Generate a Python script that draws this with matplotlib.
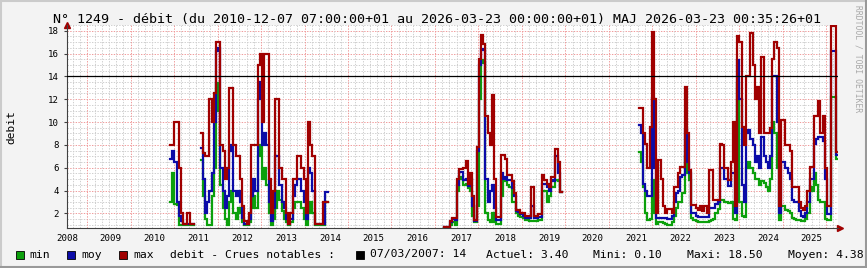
import matplotlib
matplotlib.use('Agg')
import numpy as np
import matplotlib.pyplot as plt
from matplotlib.patches import Rectangle
from matplotlib.lines import Line2D

W, H = 867, 268
MONO = 'DejaVu Sans Mono'

# step of the series, in years
dt = 0.05
nan = np.nan

# --- 2010-2013 ---
seg1_start = 2010.35
seg1_max = [8, 8, 10, 10, 6, 2, 1.05, 1.05, 2, 1.05, 1.05, nan, nan, nan,
            9, 7.3, 7, 7, 12, 10, 12.5, 17, 17, 8, 7.5, 5, 6, 13, 13, 8, 7, 7, 5,
            2.6, 1.3, 1.05, 2, 8, 8, 8, 15, 16, 10, 16, 16, 5, 2, 4, 12, 12, 6, 5, 5,
            2, 1.05, 2, 5, 5, 7, 7, 6, 5, 2, 10, 8, 7, 1.05, 1.05, 1.05, 1.05, 3, 3]
seg1_moy = [6.8, 7.5, 6.5, 3, 1.8, 1.3, 1.05, 1.05, 1.05, 1.05, 1.05, nan, nan, nan,
            7.7, 5, 2, 3, 4, 5.5, 10, 16.2, 16.5, 6, 4, 2.5, 3.5, 7.5, 8, 4, 3.5, 4, 3,
            1.6, 1.1, 1.05, 1.5, 3.5, 5, 4, 12, 13.5, 8, 9, 8, 3, 1.3, 2.5, 7, 7, 4.5, 3, 2.5,
            1.5, 1.05, 1.5, 3.5, 4.5, 5, 5, 4, 3, 1.5, 6, 5.5, 4, 1.05, 1.05, 1.05, 1.05, 1.05, 3.9]
seg1_min = [3.0, 5.5, 2.8, 2.7, 1.0, 1.0, 1.0, 1.0, 1.0, 1.0, 1.0, nan, nan, nan,
            6.7, 3.5, 1.5, 1.0, 1.0, 3.5, 6, 13.4, 11, 4.5, 2.5, 1.5, 1.0, 3, 4, 2, 1.5, 2.5, 2,
            1.2, 1.0, 1.0, 1.2, 2.5, 3.5, 2.5, 7, 8, 5, 6, 4.5, 2, 1.0, 1.5, 2.5, 4, 3.2, 2.2, 1.5,
            1.2, 1.0, 1.2, 2.5, 3, 3, 3, 2.5, 1.5, 1.0, 2, 3, 2, 1.0, 1.0, 1.0, 1.0, 1.0, 3.0]

# --- 2016-2019 ---
seg2_start = 2016.60
seg2_max = [0.8, 0.8, 0.8, 1.3, 1.6, 1.6, 5.0, 5.9, 5.9, 6.0, 6.6, 4.6, 5.5, 3.5, 1.4,
            7.8, 15.5, 17.6, 16.8, 10.5, 9, 8, 12.4, 5, 1.7, 1.7, 7.1, 7.1, 6.8, 5.4, 5.4,
            4.8, 3.8, 2.3, 2.3, 2.0, 2.0, 1.8, 1.8, 1.8, 4.3, 1.8, 1.8, 1.9, 1.9,
            5.4, 4.9, 4.6, 4.3, 5.2, 5.2, 7.6, 6.5, 3.9]
seg2_moy = [0.8, 0.8, 0.8, 1.2, 1.5, 1.4, 4.5, 5.6, 5.6, 4.9, 5.0, 4.4, 5.0, 2.6, 1.3,
            7.5, 15, 16.4, 16.3, 5, 3, 4, 4.5, 2.5, 1.4, 1.4, 5.5, 5.0, 5.2, 4.9, 4.9,
            4.2, 3.5, 2.2, 2.1, 1.9, 1.8, 1.6, 1.6, 1.6, 2.6, 1.6, 1.6, 1.7, 1.7,
            4.6, 4.6, 4.3, 4.0, 4.9, 4.8, 7.0, 5.5, 3.9]
seg2_min = [0.75, 0.75, 0.75, 1.0, 1.2, 1.0, 4.0, 5.2, 5.0, 4.5, 4.6, 4.2, 4.0, 1.8, 1.2,
            2.6, 12, 15.4, 15.2, 2, 1.4, 1.2, 2, 1.2, 1.1, 1.1, 3.5, 4.8, 4.8, 4.5, 4.3,
            3.0, 3.0, 2.0, 1.8, 1.7, 1.6, 1.4, 1.4, 1.3, 1.3, 1.3, 1.3, 1.4, 1.4,
            4.0, 4.0, 3.0, 3.5, 4.3, 4.3, 4.9, 4.8, 3.9]

# --- 2021-2025 ---
seg3_start = 2021.05
seg3_max = [11.2, 11.2, 9, 8.1, 6, 9.6, 17.9, 12, 2, 6.7, 5, 2.6, 2.0, 2.4, 2.4, 2.0, 4.3, 4.3, 5.5,
            6.1, 6.1, 13.1, 9, 5.8, 2.7, 2.7, 2.5, 2.3, 2.6, 2.2, 2.6, 2.0, 5.8, 5.8, 3.2, 3.2, 3.2, 8.1, 8.0,
            6.0, 6.0, 4.9, 6.5, 10, 2.6, 17.5, 17.0, 9.6, 8, 14, 14, 17.8, 15, 12, 13.1, 9, 15.7, 9, 9,
            9, 9.5, 15.5, 17.0, 16.5, 2.6, 10.2, 10.2, 8, 8, 7.5, 4.3, 4.3, 4.3, 3.0, 2.5, 2.3, 2.6, 4.0, 6.1,
            6.1, 10.5, 10.5, 11.8, 9, 10.5, 6, 2.6, 2.6, 18.4, 18.4, 7.4]
seg3_moy = [9.7, 9.0, 4.6, 4.0, 3.5, 3.5, 12.1, 6, 1.6, 1.6, 1.6, 1.6, 1.6, 1.5, 1.5, 1.8, 3.0, 3.8, 4.0,
            5.2, 5.4, 9.3, 6.5, 5.5, 2.0, 2.0, 1.8, 1.7, 1.7, 1.7, 1.7, 1.7, 2.5, 2.5, 2.5, 2.8, 3.0, 6.0, 6.0,
            5.0, 5.0, 4.4, 5.5, 5.5, 2.0, 15.4, 12, 4.5, 3.0, 9, 9.3, 8.5, 8.0, 6.5, 7, 6, 8.7, 7, 6.5,
            6.0, 7, 14, 14, 10, 2.0, 6.5, 6.5, 6.0, 5.5, 5.0, 3.2, 3.0, 3.0, 2.2, 1.8, 1.7, 2.0, 3.0, 5.0,
            5.0, 8.1, 8.5, 8.7, 8.7, 8.3, 5, 1.9, 1.9, 16.2, 16.2, 7.1]
seg3_min = [7.4, 6.5, 4.3, 2.0, 1.4, 1.5, 4.9, 2, 1.1, 1.2, 1.2, 1.15, 1.1, 1.0, 1.0, 1.2, 1.8, 2.5, 3.0,
            3.0, 3.8, 7.0, 5.5, 4.9, 1.6, 1.4, 1.3, 1.2, 1.2, 1.2, 1.2, 1.2, 1.3, 1.4, 1.5, 2.0, 2.4, 3.2, 3.2,
            3.0, 3.0, 2.9, 3.0, 1.5, 1.4, 13.4, 3.0, 1.8, 1.7, 6, 6.5, 6.0, 5.5, 5.0, 5.0, 4.5, 4.8, 4.7, 4.3,
            4.0, 5, 10, 9, 6, 1.4, 2.6, 2.6, 2.3, 2.2, 2.0, 1.6, 1.5, 1.4, 1.4, 1.3, 1.3, 1.5, 2.0, 4.3,
            4.0, 5.5, 4.5, 3.2, 3.0, 3.0, 1.5, 1.4, 1.4, 12.2, 12.2, 6.8]

segments = [
    (seg1_start, seg1_min, seg1_moy, seg1_max),
    (seg2_start, seg2_min, seg2_moy, seg2_max),
    (seg3_start, seg3_min, seg3_moy, seg3_max),
]

years = list(range(2008, 2026))
yticks = [2, 4, 6, 8, 10, 12, 14, 16, 18]
seuil = 14

title = "N° 1249 - débit (du 2010-12-07 07:00:00+01 au 2026-03-23 00:00:00+01) MAJ 2026-03-23 00:35:26+01"
legend_items = [("min", '#0ca00c'), ("moy", '#0c0ca8'), ("max", '#a00000')]
stats = ["Actuel: 3.40", "Mini: 0.10", "Maxi: 18.50", "Moyen: 4.38"]


def stairs_xy(start, vals):
    v = np.asarray(vals, dtype=float)
    edges = start + dt * np.arange(len(v) + 1)
    return np.repeat(edges, 2)[1:-1], np.repeat(v, 2)


fig = plt.figure(figsize=(W / 100, H / 100), dpi=100, facecolor='#f3f3f3')

# frame shading
fig.add_artist(Line2D([0, 1], [1 - 1 / H, 1 - 1 / H], transform=fig.transFigure, color='#cbcbcb', lw=1.5))
fig.add_artist(Line2D([1 / W, 1 / W], [0, 1], transform=fig.transFigure, color='#cbcbcb', lw=1.5))
fig.add_artist(Line2D([0, 1], [1 / H, 1 / H], transform=fig.transFigure, color='#999999', lw=1.5))
fig.add_artist(Line2D([1 - 1 / W, 1 - 1 / W], [0, 1], transform=fig.transFigure, color='#999999', lw=1.5))

x0, x1, ytop, ybot = 67, 838, 25, 228.3
ax = fig.add_axes([x0 / W, (H - ybot) / H, (x1 - x0) / W, (ybot - ytop) / H])
ax.set_facecolor('white')
ax.set_xlim(2008.0, 2025.6)
ax.set_ylim(0.69, 18.5)

# grid
dots = (0, (1.4, 1.4))
for v in np.arange(1.0, 18.51, 0.5):
    if v % 2:
        ax.axhline(v, color='#cfcfcf', lw=0.7, ls=dots, zorder=0)
for v in yticks:
    ax.axhline(v, color='#f09a9a', lw=0.7, ls=dots, zorder=0)
step = 0.992
for k in range(-1, 18):
    g = 2008.463 + k * step
    for m in range(1, 6):
        ax.axvline(g + m * step / 6, color='#cfcfcf', lw=0.7, ls=dots, zorder=0)
    if g > 2008:
        ax.axvline(g, color='#f09a9a', lw=0.7, ls=dots, zorder=0)

ax.axhline(seuil, color='black', lw=0.9, zorder=3)

for start, smin, smoy, smax in segments:
    for vals, (_, col) in zip((smin, smoy, smax), legend_items):
        xs, ys = stairs_xy(start, vals)
        ax.plot(xs, ys, color=col, lw=1.6, solid_joinstyle='miter', zorder=2)

for s in ('top', 'right'):
    ax.spines[s].set_visible(False)
for s in ('left', 'bottom'):
    ax.spines[s].set_color('#404040')
    ax.spines[s].set_linewidth(0.8)

ax.set_xticks(years)
ax.set_xticklabels([str(y) for y in years], family=MONO, fontsize=6.6)
ax.set_yticks(yticks)
ax.set_yticklabels([str(v) for v in yticks], family=MONO, fontsize=6.6)
ax.tick_params(axis='x', length=0, pad=4)
ax.tick_params(axis='y', length=2, pad=4, color='#404040')

# axis arrows
ax.plot([0], [1.0], marker='^', ms=4, color='#a00000', transform=ax.transAxes, clip_on=False)
ax.plot([1.003], [0], marker='>', ms=4, color='#a00000', transform=ax.transAxes, clip_on=False)

fig.text(437 / W, 1 - 19 / H, title, ha='center', va='center', family=MONO, fontsize=9.6)
fig.text(11 / W, 1 - 127 / H, 'debit', rotation=90, ha='center', va='center', family=MONO, fontsize=8)
fig.text(858 / W, 1 - 5 / H, 'RRDTOOL / TOBI OETIKER', rotation=-90, ha='center', va='top',
         family=MONO, fontsize=5.8, color='#a8a8a8')

# legend row
ly = 254.5
lfs = 8.2
box_x = [15.6, 67, 119]
text_x = [29, 81, 133]
for (lab, col), bx, tx in zip(legend_items, box_x, text_x):
    fig.add_artist(Rectangle((bx / W, 1 - (ly + 4) / H), 8 / W, 8 / H, transform=fig.transFigure,
                             facecolor=col, edgecolor='black', lw=0.6))
    fig.text(tx / W, 1 - ly / H, lab, ha='left', va='center', family=MONO, fontsize=lfs)
fig.text(170 / W, 1 - ly / H, 'debit - Crues notables :', ha='left', va='center', family=MONO, fontsize=lfs)
fig.add_artist(Rectangle((356 / W, 1 - (ly + 4) / H), 8 / W, 8 / H, transform=fig.transFigure,
                         facecolor='black', edgecolor='black', lw=0.6))
fig.text(370 / W, 1 - ly / H, '07/03/2007: %d' % seuil, ha='left', va='center', family=MONO, fontsize=lfs)
for s, sx in zip(stats, [486, 593, 687, 788]):
    fig.text(sx / W, 1 - ly / H, s, ha='left', va='center', family=MONO, fontsize=lfs)

fig.savefig('out.png', dpi=100, facecolor=fig.get_facecolor())
